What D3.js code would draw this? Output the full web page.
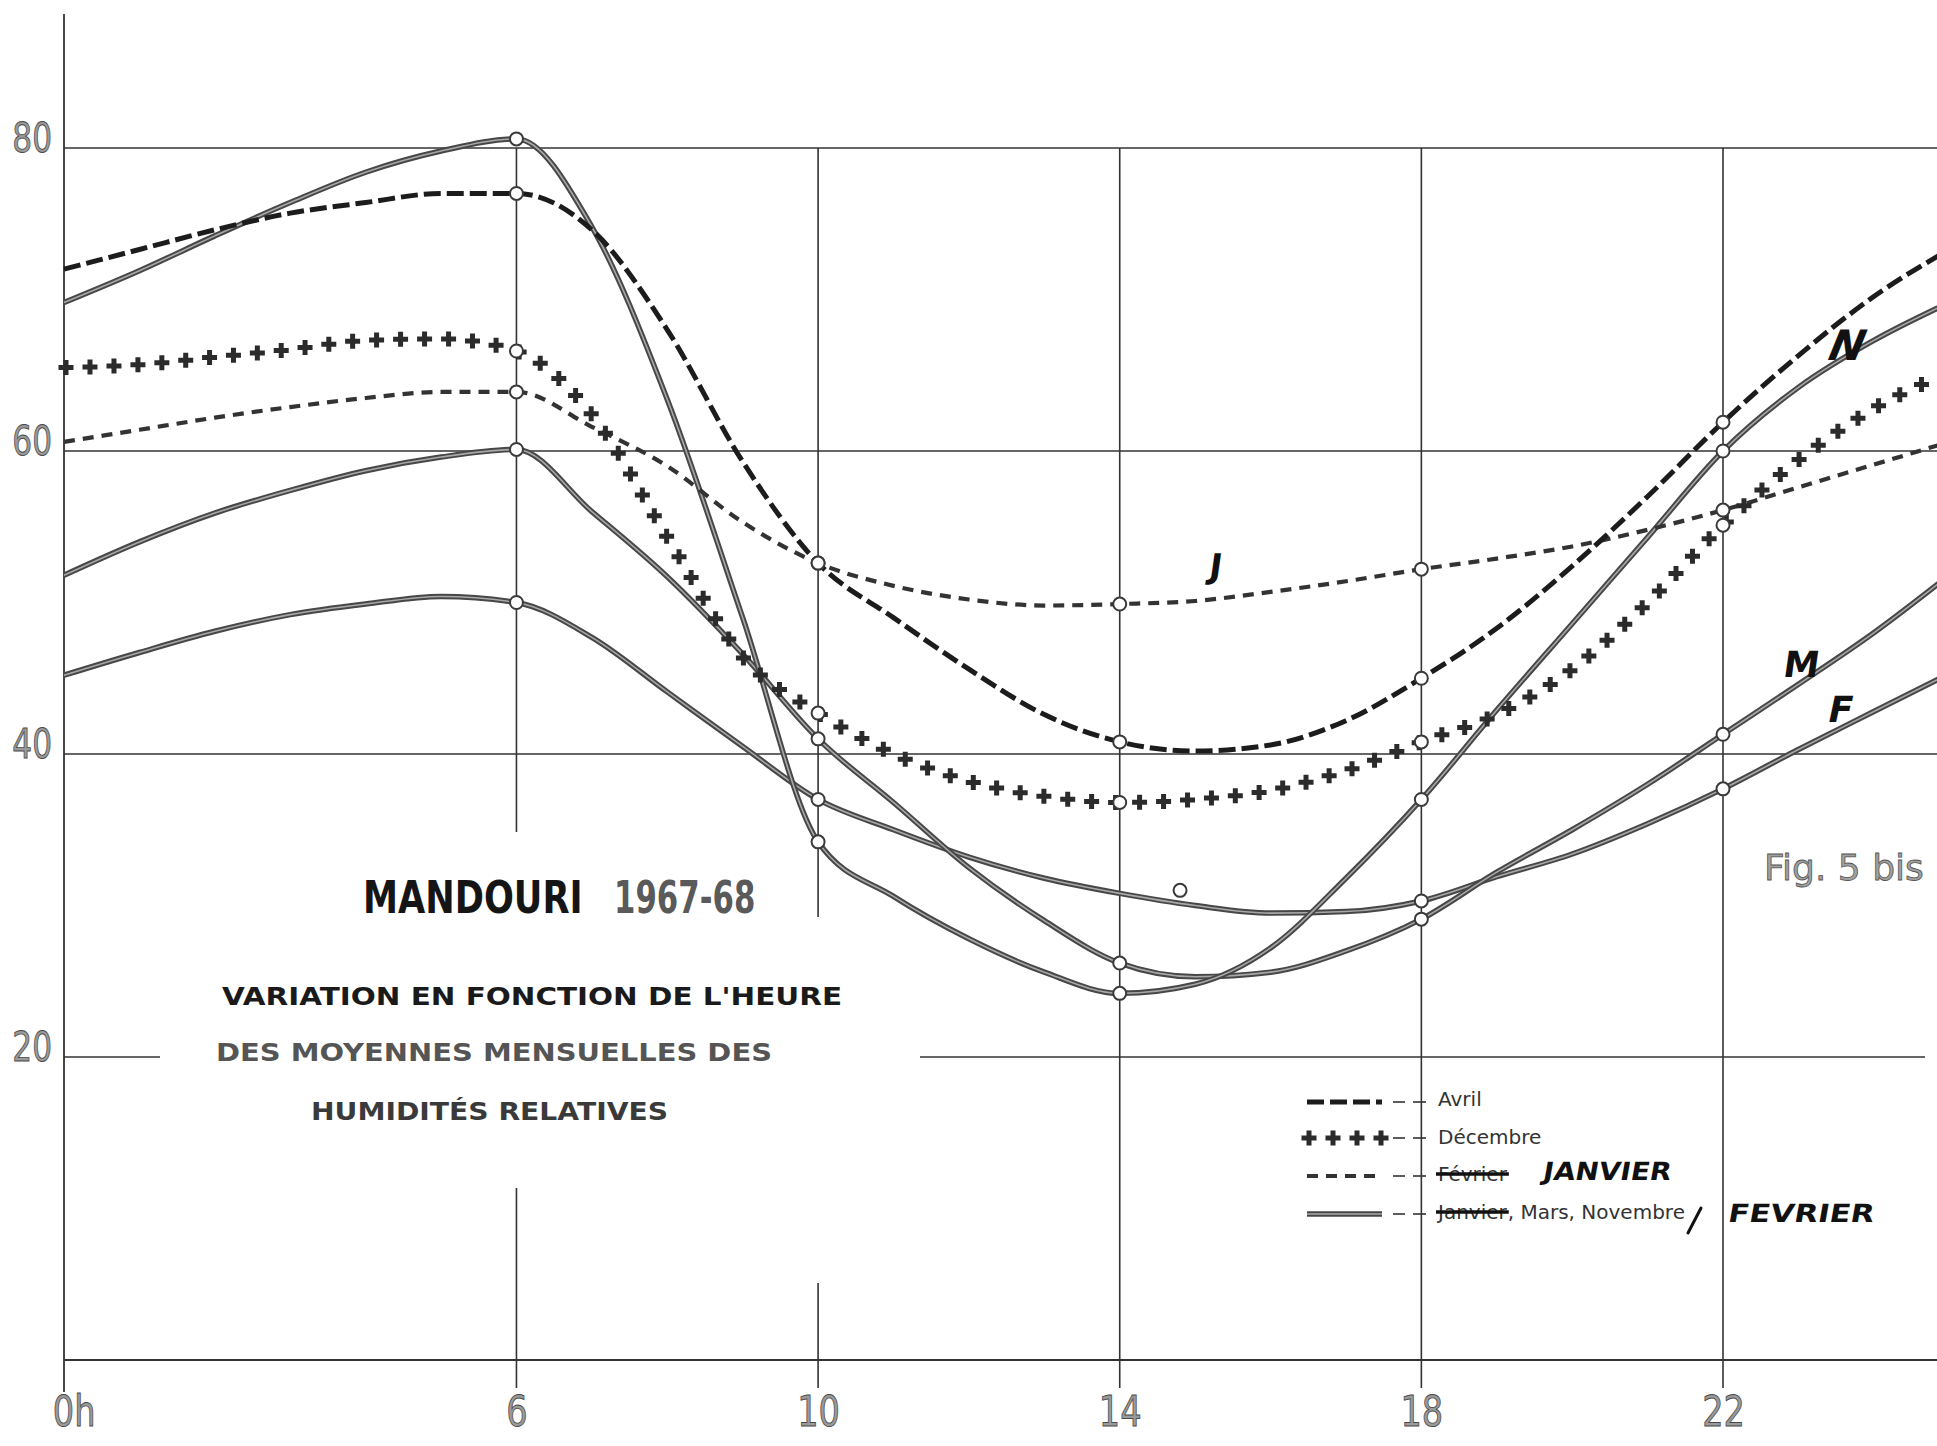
<!DOCTYPE html>
<html>
<head>
<meta charset="utf-8">
<script src="https://cdn.jsdelivr.net/npm/d3@7"></script>
<style>
  body { margin: 0; background: #fff; }
  svg { display: block; }
</style>
</head>
<body>
<div id="chart"></div>
<script>
// taille de la page
var svgWidth = 1937;
var svgHeight = 1446;

// heures (les courbes continuent au dela du bord droit)
var heures = [0,1,2,3,4,5,6,7,8,9,10,11,12,13,14,15,16,17,18,19,20,21,22,23,24,25];

// humidites relatives (%)
var avril    = [72.0,73.3,74.6,75.7,76.4,77.0,77.0,74.6,68.0,59.3,52.6,49.0,45.6,42.6,40.8,40.2,40.6,42.2,45.0,48.3,52.4,57.0,61.9,66.3,70.2,73.3];
var janvier  = [60.6,61.4,62.2,62.9,63.5,63.9,63.9,61.6,59.0,55.3,52.6,51.1,50.2,49.8,49.9,50.1,50.7,51.4,52.2,52.9,53.7,54.8,56.1,57.6,59.1,60.6];
var decembre = [65.5,65.7,66.2,66.7,67.3,67.4,66.6,62.4,54.3,46.4,42.7,40.0,38.2,37.2,36.8,37.0,37.6,38.9,40.8,42.6,45.6,50.0,55.1,59.4,62.8,65.2];
var novembre = [69.8,71.9,74.2,76.4,78.4,79.8,80.6,74.8,63.4,49.0,34.2,30.6,27.8,25.6,24.2,24.8,27.2,31.8,37.0,42.9,48.6,54.3,60.0,64.2,67.3,69.8];
var mars     = [51.8,54.0,55.9,57.4,58.7,59.6,60.1,56.0,51.7,46.6,41.0,36.8,32.5,29.0,26.2,25.3,25.6,27.0,29.1,32.2,35.0,38.0,41.3,44.6,48.0,51.8];
var fevrier  = [45.2,46.7,48.1,49.2,49.9,50.4,50.0,47.7,44.1,40.5,37.0,35.0,33.2,31.8,30.8,30.0,29.5,29.6,30.3,31.9,33.4,35.4,37.7,40.3,42.8,45.3];

// heures de mesure (petits cercles)
var heuresMesure = [6, 10, 14, 18, 22];
var heuresMesureFevrier = [6, 10, 18, 22];
// cercle isole vers 15h
var pointIsoleHeure = [14.8];
var pointIsoleValeur = [31.0];

// graduations
var yTicks = [20, 40, 60, 80];
var xTicks = [0, 6, 10, 14, 18, 22];
var xGrid = [6, 10, 14, 18, 22];

var svg = d3.select("#chart")
    .append("svg")
    .attr("width", svgWidth)
    .attr("height", svgHeight);

var xScale = d3.scaleLinear().domain([0, 22]).range([64, 1723]);
var yScale = d3.scaleLinear().domain([0, 80]).range([1360, 148]);

// quadrillage
var gridG = svg.append("g").attr("stroke", "#333").attr("stroke-width", 1.6);

yTicks.forEach(function (v) {
    var segs = v === 20 ? [[xScale(0), 160], [920, 1925]] : [[xScale(0), svgWidth]];
    segs.forEach(function (s) {
        gridG.append("line")
            .attr("x1", s[0]).attr("x2", s[1])
            .attr("y1", yScale(v)).attr("y2", yScale(v));
    });
});

// coupures des verticales sous le titre
var coupures = { 6: [832, 1188], 10: [917, 1283] };
xGrid.forEach(function (h) {
    var segs = coupures[h]
        ? [[yScale(80), coupures[h][0]], [coupures[h][1], 1388]]
        : [[yScale(80), 1388]];
    segs.forEach(function (s) {
        gridG.append("line")
            .attr("x1", xScale(h)).attr("x2", xScale(h))
            .attr("y1", s[0]).attr("y2", s[1]);
    });
});

// axes
svg.append("line")
    .attr("x1", xScale(0)).attr("x2", xScale(0))
    .attr("y1", 14).attr("y2", 1392)
    .attr("stroke", "#333").attr("stroke-width", 1.8);
svg.append("line")
    .attr("x1", xScale(0)).attr("x2", svgWidth)
    .attr("y1", yScale(0)).attr("y2", yScale(0))
    .attr("stroke", "#333").attr("stroke-width", 1.8);

var leftAxis = d3.axisLeft(yScale).tickValues(yTicks).tickSize(0).tickPadding(0);
var yAxisG = svg.append("g")
    .attr("transform", "translate(" + xScale(0) + ",0)")
    .call(leftAxis);
yAxisG.select(".domain").remove();
yAxisG.selectAll("text")
    .attr("font-family", "DejaVu Sans, sans-serif")
    .attr("font-size", 40)
    .attr("fill", "#9a9a9a")
    .attr("stroke", "#4a4a4a")
    .attr("stroke-width", 0.9)
    .attr("transform", "scale(0.78,1)")
    .attr("x", -12 / 0.78)
    .attr("dy", "0.08em");

var bottomAxis = d3.axisBottom(xScale).tickValues(xTicks).tickSize(0).tickPadding(36)
    .tickFormat(function (d) { return d === 0 ? "0h" : d; });
var xAxisG = svg.append("g")
    .attr("transform", "translate(0," + yScale(0) + ")")
    .call(bottomAxis);
xAxisG.select(".domain").remove();
xAxisG.selectAll("text")
    .attr("font-family", "DejaVu Sans, sans-serif")
    .attr("font-size", 42)
    .attr("fill", "#9a9a9a")
    .attr("stroke", "#4a4a4a")
    .attr("stroke-width", 0.9)
    .attr("transform", "scale(0.8,1)")
    .attr("x", function (d) { return d === 0 ? 12 : 0; });

// courbes
var series = [
    { nom: "Février", valeurs: fevrier, style: "plein", mesures: heuresMesureFevrier },
    { nom: "Mars", valeurs: mars, style: "plein", mesures: heuresMesure },
    { nom: "Novembre", valeurs: novembre, style: "plein", mesures: heuresMesure },
    { nom: "Janvier", valeurs: janvier, style: "tiretsFins", mesures: heuresMesure },
    { nom: "Avril", valeurs: avril, style: "tirets", mesures: heuresMesure },
    { nom: "Décembre", valeurs: decembre, style: "croix", mesures: heuresMesure }
];

var line = d3.line()
    .x(function (d) { return xScale(d.h); })
    .y(function (d) { return yScale(d.v); })
    .curve(d3.curveMonotoneX);

function points(vals) {
    return heures.map(function (h, i) { return { h: h, v: vals[i] }; });
}

var crossSymbol = d3.symbol().type(d3.symbolCross).size(125);

function drawStyle(g, style, pathD) {
    if (style === "plein") {
        g.append("path").attr("d", pathD).attr("fill", "none")
            .attr("stroke", "#474747").attr("stroke-width", 5.5);
        g.append("path").attr("d", pathD).attr("fill", "none")
            .attr("stroke", "#a8a8a8").attr("stroke-width", 1.6);
    } else if (style === "tirets") {
        g.append("path").attr("d", pathD).attr("fill", "none")
            .attr("stroke", "#1c1c1c").attr("stroke-width", 5)
            .attr("stroke-dasharray", "17,6");
    } else if (style === "tiretsFins") {
        g.append("path").attr("d", pathD).attr("fill", "none")
            .attr("stroke", "#333").attr("stroke-width", 4.2)
            .attr("stroke-dasharray", "11,8");
    } else if (style === "croix") {
        var p = g.append("path").attr("d", pathD).attr("fill", "none").attr("stroke", "none");
        var node = p.node();
        var total = node.getTotalLength();
        var pts = [];
        for (var l = 2; l < total; l += 24) {
            var pt = node.getPointAtLength(l);
            if (pt.x <= svgWidth) pts.push(pt);
        }
        g.selectAll("path.croix").data(pts).enter().append("path")
            .attr("class", "croix")
            .attr("d", crossSymbol)
            .attr("transform", function (d) { return "translate(" + d.x + "," + d.y + ")"; })
            .attr("fill", "#2b2b2b");
    }
}

var curvesG = svg.append("g");
series.forEach(function (s) {
    var g = curvesG.append("g").attr("class", "serie");
    drawStyle(g, s.style, line(points(s.valeurs)));
});

// cercles aux heures de mesure
var markersG = svg.append("g");
series.forEach(function (s) {
    var pts = s.mesures.map(function (h) { return { h: h, v: s.valeurs[heures.indexOf(h)] }; });
    markersG.selectAll(null).data(pts).enter().append("circle")
        .attr("cx", function (d) { return xScale(d.h); })
        .attr("cy", function (d) { return yScale(d.v); })
        .attr("r", 6.5)
        .attr("fill", "#fff")
        .attr("stroke", "#3a3a3a")
        .attr("stroke-width", 2);
});
markersG.selectAll(null).data(pointIsoleHeure).enter().append("circle")
    .attr("cx", function (d) { return xScale(d); })
    .attr("cy", function (d, i) { return yScale(pointIsoleValeur[i]); })
    .attr("r", 6.5)
    .attr("fill", "#fff")
    .attr("stroke", "#3a3a3a")
    .attr("stroke-width", 2);

// titre (largeur reglee par une mise a l'echelle horizontale)
function titreText(x, t, sx, c) {
    svg.append("text")
        .attr("transform", "translate(" + x + ",913) scale(" + sx + ",1)")
        .attr("font-family", "DejaVu Sans, sans-serif")
        .attr("font-weight", "bold")
        .attr("font-size", 44)
        .attr("fill", c)
        .text(t);
}
titreText(363, "MANDOURI", 0.8, "#151515");
titreText(614, "1967-68", 0.7, "#5a5a5a");

var sousTitres = [
    { t: "VARIATION EN FONCTION DE L'HEURE", x: 222, y: 1005, w: 620, c: "#1a1a1a" },
    { t: "DES MOYENNES MENSUELLES DES", x: 216, y: 1061, w: 556, c: "#555" },
    { t: "HUMIDITÉS RELATIVES", x: 311, y: 1120, w: 357, c: "#3a3a3a" }
];
svg.selectAll("text.sous").data(sousTitres).enter().append("text")
    .attr("class", "sous")
    .attr("x", function (d) { return d.x; })
    .attr("y", function (d) { return d.y; })
    .attr("font-family", "DejaVu Sans, sans-serif")
    .attr("font-weight", "bold")
    .attr("font-size", 25)
    .attr("textLength", function (d) { return d.w; })
    .attr("lengthAdjust", "spacingAndGlyphs")
    .attr("fill", function (d) { return d.c; })
    .text(function (d) { return d.t; });

// Fig. 5 bis
svg.append("text")
    .attr("x", 1764).attr("y", 880)
    .attr("font-family", "DejaVu Sans, sans-serif")
    .attr("font-size", 36)
    .attr("fill", "#a0a0a0")
    .attr("stroke", "#555")
    .attr("stroke-width", 0.8)
    .text("Fig. 5 bis");

// lettres manuscrites sur les courbes
var lettres = [
    { t: "J", x: 1208, y: 578, s: 34, k: -8 },
    { t: "N", x: 1824, y: 360, s: 42, k: -22 },
    { t: "M", x: 1782, y: 677, s: 36, k: -8 },
    { t: "F", x: 1826, y: 722, s: 36, k: -12 }
];
svg.selectAll("text.lettre").data(lettres).enter().append("text")
    .attr("class", "lettre")
    .attr("transform", function (d) { return "translate(" + d.x + "," + d.y + ") skewX(" + d.k + ")"; })
    .attr("font-family", "DejaVu Sans, sans-serif")
    .attr("font-weight", "bold")
    .attr("font-size", function (d) { return d.s; })
    .attr("fill", "#111")
    .text(function (d) { return d.t; });

// legende
var legendRows = [
    { y: 1102, style: "tirets" },
    { y: 1138, style: "croix" },
    { y: 1176, style: "tiretsFins" },
    { y: 1214, style: "plein" }
];
var legG = svg.append("g");
legendRows.forEach(function (r) {
    var g = legG.append("g");
    drawStyle(g, r.style, "M1307," + r.y + "L1382," + r.y);
    g.append("line").attr("x1", 1393).attr("x2", 1405).attr("y1", r.y).attr("y2", r.y)
        .attr("stroke", "#333").attr("stroke-width", 1.6);
    g.append("line").attr("x1", 1413).attr("x2", 1426).attr("y1", r.y).attr("y2", r.y)
        .attr("stroke", "#333").attr("stroke-width", 1.6);
});

function legText(x, y, t) {
    return legG.append("text")
        .attr("x", x).attr("y", y)
        .attr("font-family", "DejaVu Sans, sans-serif")
        .attr("font-size", 20)
        .attr("fill", "#333")
        .text(t);
}
legText(1438, 1106, "Avril");
legText(1438, 1144, "Décembre");
var tFev = legText(1438, 1181, "Février");
var wFev = tFev.node().getComputedTextLength();
legG.append("line").attr("x1", 1436).attr("x2", 1440 + wFev).attr("y1", 1174).attr("y2", 1174)
    .attr("stroke", "#111").attr("stroke-width", 3.5);
var tJan = legText(1438, 1219, "Janvier");
var wJan = tJan.node().getComputedTextLength();
legG.append("line").attr("x1", 1436).attr("x2", 1440 + wJan).attr("y1", 1212).attr("y2", 1212)
    .attr("stroke", "#111").attr("stroke-width", 3.5);
legText(1438 + wJan + 1, 1219, ", Mars, Novembre");

function mainText(x, y, t, w) {
    legG.append("text")
        .attr("transform", "translate(" + x + "," + y + ") skewX(-10)")
        .attr("font-family", "DejaVu Sans, sans-serif")
        .attr("font-weight", "bold")
        .attr("font-size", 25)
        .attr("textLength", w)
        .attr("lengthAdjust", "spacingAndGlyphs")
        .attr("fill", "#111")
        .text(t);
}
mainText(1542, 1180, "JANVIER", 128);
mainText(1727, 1222, "FEVRIER", 146);
legG.append("line").attr("x1", 1701).attr("y1", 1208).attr("x2", 1688).attr("y2", 1233)
    .attr("stroke", "#111").attr("stroke-width", 3).attr("stroke-linecap", "round");
</script>
</body>
</html>
